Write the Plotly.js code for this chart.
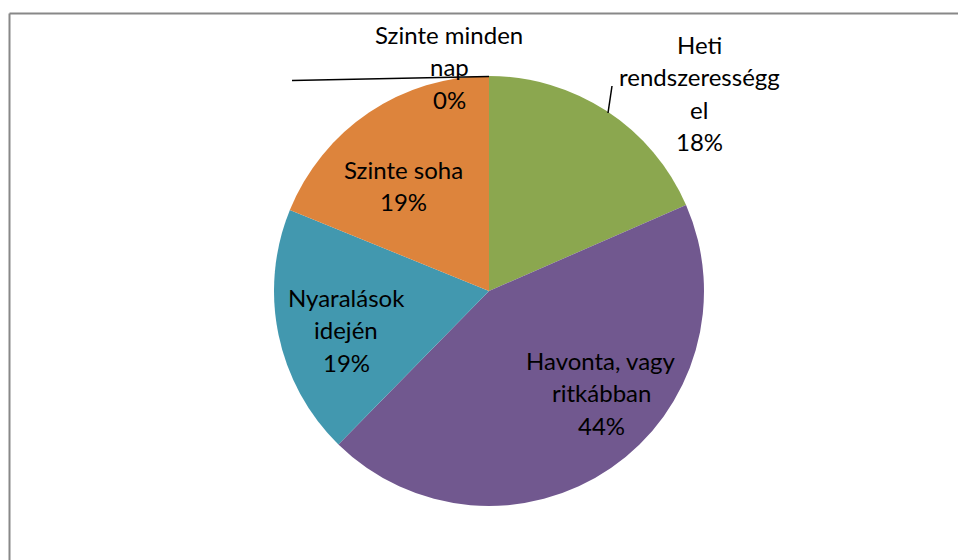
<!DOCTYPE html>
<html>
<head>
<meta charset="utf-8">
<script src="https://cdn.plot.ly/plotly-3.0.1.min.js"></script>
<style>html,body{margin:0;padding:0;background:#fff;}#chart{width:958px;height:560px;}</style>
</head>
<body>
<div id="chart"></div>
<script>
// Data
const categories = ["Szinte minden nap", "Heti rendszerességgel", "Havonta, vagy ritkábban", "Nyaralások idején", "Szinte soha"];
const values = [0, 18.45, 43.9, 18.8, 18.85];
const colors = ["#4F81BD", "#8BA74F", "#71588F", "#4298AF", "#DD843C"];
// Label lines as shown in the picture (text wraps)
const labelLines = [
  ["Szinte minden", "nap"],
  ["Heti", "rendszerességg", "el"],
  ["Havonta, vagy", "ritkábban"],
  ["Nyaralások", "idején"],
  ["Szinte soha"]
];

const W = 958, H = 560;
const px = x => x / W;
const py = y => 1 - y / H;

// Layout positions for label blocks (center x, first baseline y) in pixels
const labelPos = [
  [449, 43],
  [699, 53],
  [601, 369],
  [346, 306],
  [403, 178]
];
const lineStep = 32.3;
const fontSize = 24;

const total = values.reduce((a, b) => a + b, 0);
const annotations = [];
categories.forEach((c, i) => {
  const lines = labelLines[i].concat([Math.round(values[i] / total * 100) + "%"]);
  lines.forEach((t, j) => {
    const base = labelPos[i][1] + j * lineStep;
    annotations.push({
      xref: "paper", yref: "paper",
      x: px(labelPos[i][0]), y: py(base - 8.5),
      xanchor: "center", yanchor: "middle",
      text: t, showarrow: false,
      font: {family: "Lato, 'Open Sans', sans-serif", size: fontSize, color: "#000"}
    });
  });
});

const cx = 489, cy = 291, R = 215;
const data = [{
  type: "pie",
  labels: categories,
  values: values,
  sort: false,
  direction: "clockwise",
  rotation: 0,
  textinfo: "none",
  hoverinfo: "label+percent",
  marker: {colors: colors, line: {width: 0}},
  domain: {x: [px(cx - R), px(cx + R)], y: [py(cy + R), py(cy - R)]},
  showlegend: false
}];

const layout = {
  width: W, height: H,
  margin: {l: 0, r: 0, t: 0, b: 0},
  paper_bgcolor: "#fff",
  showlegend: false,
  annotations: annotations,
  shapes: [
    {type: "line", xref: "paper", yref: "paper", x0: px(9.5), x1: px(960), y0: py(13.5), y1: py(13.5), line: {color: "#888", width: 2}},
    {type: "line", xref: "paper", yref: "paper", x0: px(9.5), x1: px(9.5), y0: py(13.5), y1: py(562), line: {color: "#888", width: 2}},
    {type: "line", xref: "paper", yref: "paper", x0: px(292), x1: px(489), y0: py(80.5), y1: py(76.5), line: {color: "#000", width: 1.5}},
    {type: "line", xref: "paper", yref: "paper", x0: px(612), x1: px(608), y0: py(86), y1: py(113), line: {color: "#000", width: 1.5}}
  ]
};

Plotly.newPlot("chart", data, layout, {staticPlot: true, displayModeBar: false});
</script>
</body>
</html>
